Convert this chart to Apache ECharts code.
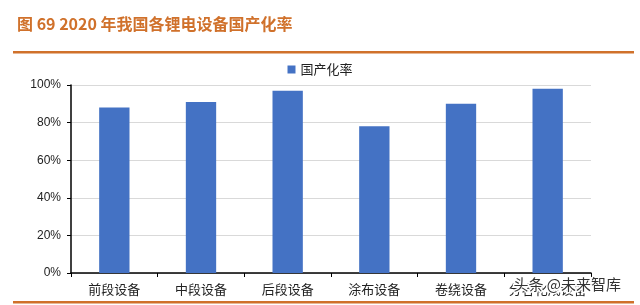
<!DOCTYPE html>
<html><head><meta charset="utf-8">
<script src="https://cdn.jsdelivr.net/npm/echarts@6/dist/echarts.min.js"></script>
<style>html,body{margin:0;padding:0;background:#fff}#c{width:640px;height:305px}</style>
</head><body><div id="c"></div>
<script>
const categories = ['前段设备', '中段设备', '后段设备', '涂布设备', '卷绕设备', '分容化成设备'];
const seriesName = '国产化率';
const values = [88, 91, 97, 78, 90, 98];
const yTicks = [0, 20, 40, 60, 80, 100];

const chart = echarts.init(document.getElementById('c'), null, {renderer: 'canvas'});
const cjk = '"Noto Sans CJK SC", "Noto Sans", sans-serif';
chart.setOption({
  animation: false,
  backgroundColor: '#fff',
  title: {
    text: '图 69 2020 年我国各锂电设备国产化率',
    left: 12, top: 11,
    textStyle: {color: '#D0712B', fontSize: 16, fontWeight: 'bold', fontFamily: cjk}
  },
  legend: {
    data: [seriesName], top: 58, left: 'center',
    itemWidth: 8, itemHeight: 8, itemGap: 4,
    icon: 'rect',
    textStyle: {color: '#222', fontSize: 13, fontFamily: cjk}
  },
  grid: {left: 71, right: 49, top: 85, bottom: 32},
  xAxis: {
    type: 'category', data: categories,
    axisLine: {lineStyle: {color: '#000', width: 1.5}},
    axisTick: {show: true, length: 4, lineStyle: {color: '#000'}},
    axisLabel: {color: '#222', fontSize: 13, margin: 10, interval: 0, hideOverlap: false, fontFamily: cjk}
  },
  yAxis: {
    type: 'value', min: 0, max: 100, interval: 20,
    axisLine: {show: true, lineStyle: {color: '#000', width: 1.5}},
    axisTick: {show: true, length: 4, lineStyle: {color: '#000'}},
    axisLabel: {color: '#222', fontSize: 12, margin: 10, fontFamily: 'Arial, "Liberation Sans", sans-serif',
      formatter: v => yTicks.includes(v) ? v + '%' : ''},
    splitLine: {lineStyle: {color: '#d9d9d9', width: 1}}
  },
  series: [{
    name: seriesName, type: 'bar', data: values, barWidth: '35%',
    itemStyle: {color: '#4472C4'}
  }],
  graphic: [
    {type: 'rect', shape: {x: 13, y: 51, width: 621, height: 2.5}, style: {fill: '#D0712B'}, silent: true},
    {type: 'rect', shape: {x: 13, y: 301, width: 621, height: 2.5}, style: {fill: '#D0712B'}, silent: true},
    {type: 'text', left: 512, top: 275, z: 100,
      style: {text: '头条 @未来智库', fill: '#333', stroke: '#fff', lineWidth: 3, fontSize: 15, fontFamily: cjk}}
  ]
});
</script></body></html>
